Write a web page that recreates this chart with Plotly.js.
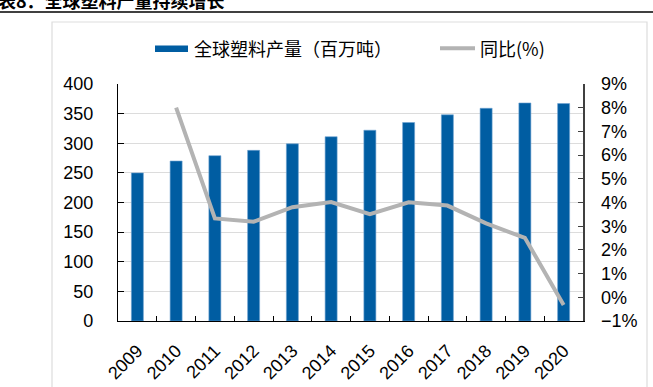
<!DOCTYPE html>
<html>
<head>
<meta charset="utf-8">
<script src="https://cdn.plot.ly/plotly-3.0.1.min.js"></script>
<style>
html,body{margin:0;padding:0;background:#fff;}
#chart{width:653px;height:387px;}
</style>
</head>
<body>
<div id="chart"></div>
<script>
// Data
var years = ['2009','2010','2011','2012','2013','2014','2015','2016','2017','2018','2019','2020'];
var production = [250, 270, 279, 288, 299, 311, 322, 335, 348, 359, 368, 367];
var yoy = [null, 8.0, 3.33, 3.19, 3.80, 4.02, 3.51, 4.01, 3.87, 3.12, 2.51, -0.32];
var barName = '全球塑料产量（百万吨）';
var lineName = '同比(%)';
var titleText = '图表8：全球塑料产量持续增长';

// Layout geometry (pixels)
var Wfull = 653, Hfull = 387;
var L = 118, R = 583, T = 84, B = 321;
var PW = R - L, PH = B - T;
function px(x){ return (x - L) / PW; }
function py(y){ return (B - y) / PH; }

var cjk = '"Noto Sans CJK SC", "Noto Sans", sans-serif';
var latin = '"Liberation Sans", Arial, sans-serif';

var traces = [
  {
    type: 'bar',
    x: years,
    y: production,
    name: barName,
    marker: {color: '#005DA2', line: {color: '#6FA3D2', width: 0.6}},
    yaxis: 'y',
    showlegend: false,
    hoverinfo: 'x+y'
  },
  {
    type: 'scatter',
    mode: 'lines',
    x: years,
    y: yoy,
    name: lineName,
    line: {color: '#B3B3B3', width: 4},
    yaxis: 'y2',
    connectgaps: false,
    showlegend: false
  }
];

var layout = {
  width: Wfull,
  height: Hfull,
  margin: {l: L, r: Wfull - R, t: T, b: Hfull - B, pad: 0},
  paper_bgcolor: '#ffffff',
  plot_bgcolor: '#ffffff',
  bargap: 0.69,
  showlegend: false,
  font: {family: latin, size: 18, color: '#000'},
  xaxis: {
    type: 'category',
    tickangle: -45,
    ticks: 'inside',
    tickson: 'boundaries',
    ticklen: 5,
    tickcolor: '#000',
    showline: true,
    linecolor: '#000',
    linewidth: 1.2,
    showgrid: false,
    tickfont: {family: latin, size: 18, color: '#000'},
    ticklabelstandoff: 11
  },
  yaxis: {
    range: [0, 400],
    dtick: 50,
    tick0: 0,
    ticks: 'inside',
    ticklen: 6,
    tickcolor: '#000',
    showline: true,
    linecolor: '#000',
    linewidth: 1.2,
    showgrid: true,
    gridcolor: '#DCDCDC',
    gridwidth: 1,
    zeroline: false,
    tickfont: {family: latin, size: 18, color: '#000'},
    ticklabelstandoff: 20
  },
  yaxis2: {
    overlaying: 'y',
    side: 'right',
    range: [-1, 9],
    dtick: 1,
    tick0: 0,
    ticksuffix: '%',
    ticks: 'inside',
    ticklen: 5,
    tickcolor: '#404040',
    showline: true,
    linecolor: '#404040',
    linewidth: 1.5,
    showgrid: false,
    zeroline: false,
    tickfont: {family: latin, size: 18, color: '#000'},
    ticklabelstandoff: 13
  },
  shapes: [
    // outer light frame
    {type: 'rect', xref: 'paper', yref: 'paper', x0: px(52), x1: px(647), y0: py(440), y1: py(22),
     line: {color: '#DDDDDD', width: 1.2}, fillcolor: 'rgba(0,0,0,0)', layer: 'below'},
    // top black rule
    {type: 'line', xref: 'paper', yref: 'paper', x0: px(0), x1: px(653), y0: py(12), y1: py(12),
     line: {color: '#000', width: 1.6}},
    // legend swatches
    {type: 'rect', xref: 'paper', yref: 'paper', x0: px(155), x1: px(188), y0: py(52), y1: py(45.5),
     line: {width: 0}, fillcolor: '#005DA2'},
    {type: 'line', xref: 'paper', yref: 'paper', x0: px(440), x1: px(475), y0: py(48.3), y1: py(48.3),
     line: {color: '#B3B3B3', width: 4}}
  ],
  annotations: [
    {xref: 'paper', yref: 'paper', x: px(-22), y: py(0), xanchor: 'left', yanchor: 'middle',
     text: '<b>' + titleText + '</b>', showarrow: false,
     font: {family: cjk, size: 18, color: '#000'}},
    {xref: 'paper', yref: 'paper', x: px(192), y: py(47.7), xanchor: 'left', yanchor: 'middle',
     text: barName, showarrow: false, font: {family: cjk, size: 18, color: '#000'}},
    {xref: 'paper', yref: 'paper', x: px(478), y: py(47.7), xanchor: 'left', yanchor: 'middle',
     text: lineName, showarrow: false, font: {family: cjk, size: 18, color: '#000'}}
  ]
};

Plotly.newPlot('chart', traces, layout, {displayModeBar: false, staticPlot: true});
</script>
</body>
</html>
